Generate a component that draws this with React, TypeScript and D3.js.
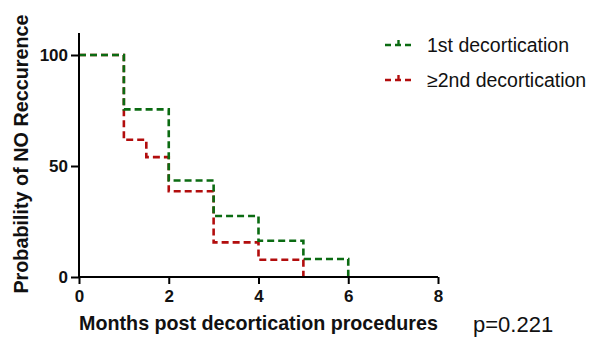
import * as d3 from "d3";
import { useRef, useEffect } from "react";

// step points: [month, probability]
const firstTimes = [0, 1, 2, 3, 4, 5, 6];
const firstValues = [100, 75.5, 43.5, 27.5, 16.3, 8.1, 0];
const repeatTimes = [0, 1, 1.5, 2, 3, 4, 5];
const repeatValues = [100, 61.8, 54, 38.6, 15.6, 7.8, 0];
const xTicks = [0, 2, 4, 6, 8];
const yTicks = [0, 50, 100];
const seriesNames = ["1st decortication", "\u22652nd decortication"];
const seriesColors = ["#0b6b12", "#b20d0d"];

export default function App() {
  const svgRef = useRef(null);
  const width = 591;
  const height = 337;

  useEffect(() => {
    const svg = d3.select(svgRef.current);
    svg.selectAll("*").remove();

    const x = d3.scaleLinear().domain([0, 8]).range([79, 438]);
    const y = d3.scaleLinear().domain([0, 100]).range([277, 55]);
    const font = "Liberation Sans, Arial, sans-serif";

    const line = d3.line<[number, number]>()
      .x(d => x(d[0]))
      .y(d => y(d[1]))
      .curve(d3.curveStepAfter);

    const series = [
      { times: repeatTimes, values: repeatValues, color: seriesColors[1] },
      { times: firstTimes, values: firstValues, color: seriesColors[0] },
    ];

    svg.append("g")
      .selectAll("path")
      .data(series)
      .join("path")
        .attr("d", s => line(s.times.map((t, i) => [t, s.values[i]] as [number, number])))
        .attr("fill", "none")
        .attr("stroke", s => s.color)
        .attr("stroke-width", 2.6)
        .attr("stroke-dasharray", "7,4");

    // x axis
    svg.append("g")
      .attr("transform", `translate(0,${y(0)})`)
      .call(d3.axisBottom(x).tickValues(xTicks).tickSize(7).tickPadding(6))
      .call(g => g.select(".domain").attr("stroke-width", 2).attr("d", `M${x(0)},0H${x(8)}`))
      .call(g => g.selectAll(".tick line").attr("stroke-width", 2))
      .call(g => g.selectAll(".tick text")
        .attr("font-family", font).attr("font-size", 17).attr("font-weight", "bold").attr("fill", "#111"));

    // y axis
    svg.append("g")
      .attr("transform", `translate(${x(0)},0)`)
      .call(d3.axisLeft(y).tickValues(yTicks).tickSize(8).tickPadding(3))
      .call(g => g.select(".domain").attr("stroke-width", 2).attr("d", `M0,33V${y(0)}`))
      .call(g => g.selectAll(".tick line").attr("stroke-width", 2))
      .call(g => g.selectAll(".tick text")
        .attr("font-family", font).attr("font-size", 17).attr("font-weight", "bold").attr("fill", "#111"));

    svg.append("text")
      .attr("transform", `translate(28,154) rotate(-90)`)
      .attr("text-anchor", "middle")
      .attr("font-family", font)
      .attr("font-size", 19.8)
      .attr("font-weight", "bold")
      .attr("fill", "#111")
      .text("Probability of NO Reccurence");

    svg.append("text")
      .attr("x", (x(0) + x(8)) / 2)
      .attr("y", 330)
      .attr("text-anchor", "middle")
      .attr("font-family", font)
      .attr("font-size", 19.7)
      .attr("font-weight", "bold")
      .attr("fill", "#111")
      .text("Months post decortication procedures");

    svg.append("text")
      .attr("x", 473)
      .attr("y", 332)
      .attr("font-family", font)
      .attr("font-size", 22)
      .attr("fill", "#111")
      .text("p=0.221");

    // legend
    const legend = svg.append("g")
      .selectAll("g")
      .data(seriesNames)
      .join("g")
        .attr("transform", (d, i) => `translate(385,${45 + i * 35})`);

    legend.append("line")
      .attr("x1", 0).attr("x2", 27)
      .attr("stroke", (d, i) => seriesColors[i])
      .attr("stroke-width", 2.6)
      .attr("stroke-dasharray", "6,4");

    legend.append("line")
      .attr("x1", 13.5).attr("x2", 13.5)
      .attr("y1", 0).attr("y2", -5)
      .attr("stroke", (d, i) => seriesColors[i])
      .attr("stroke-width", 2.4);

    legend.append("text")
      .attr("x", 42)
      .attr("y", 7)
      .attr("font-family", font)
      .attr("font-size", 19.5)
      .attr("fill", "#111")
      .text(d => d);
  }, []);

  return (
    <svg
      ref={svgRef}
      width={width}
      height={height}
      viewBox={`0 0 ${width} ${height}`}
      style={{ position: "absolute", left: 0, top: 0, background: "#fff" }}
    />
  );
}
